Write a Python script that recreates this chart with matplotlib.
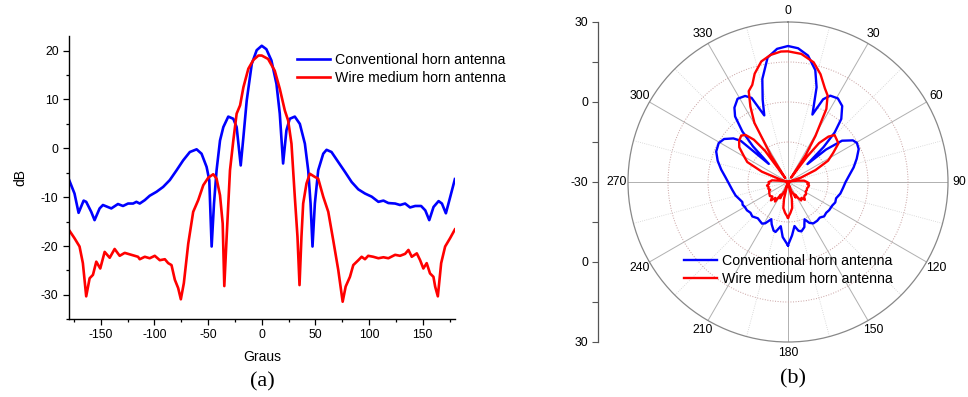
import numpy as np
import matplotlib
matplotlib.use("Agg")
import matplotlib.pyplot as plt
from matplotlib.ticker import MultipleLocator

plt.rcParams['font.family'] = ['Liberation Sans', 'DejaVu Sans']
plt.rcParams['axes.unicode_minus'] = False

# ---------------- data ----------------
conv_deg = [-180, -174.5, -170.7, -166, -163.6, -158.9, -155.8, -151.1, -148, -140.2,
            -134, -129.3, -124.6, -119.9, -116.8, -113.7, -109, -104.4, -98.1, -91.9,
            -85.7, -79.4, -73.2, -67, -60.7, -56.1, -51.4, -48.9, -46.7, -44.5,
            -42.1, -38.9, -35.8, -31.2, -26.5, -23.4, -19.6, -17.1, -14, -9.3,
            -4.7, 0, 4.3, 9, 13.7, 16.8, 19.9, 23, 26.1, 30.8,
            35.5, 40.2, 43.3, 45.5, 47.3, 49.5, 52.6, 57.3, 60.4, 65,
            71.3, 77.5, 83.8, 90, 96.2, 102.5, 108.7, 113.4, 118, 124.3,
            128.9, 133.6, 138.2, 143, 148.5, 152.4, 156.1, 160.1, 164.8, 167.9,
            171.6, 175.7, 180]
conv_db = [-6.2, -9.25, -13.2, -10.7, -10.95, -13, -14.7, -12.3, -11.6, -12.3,
           -11.4, -11.8, -11.3, -11.3, -10.95, -11.3, -10.6, -9.7, -8.9, -7.9,
           -6.5, -4.5, -2.45, -0.75, -0.2, -1.1, -3.8, -6.5, -20.1, -11.3,
           -4.5, 1.6, 4.35, 6.5, 6.05, 4.35, -3.5, 2.3, 9.8, 17.3,
           20.1, 21.0, 20.3, 18.0, 13.2, 7.1, -3.1, 3.7, 6.05, 6.5,
           5.0, 0.95, -4.5, -11.3, -20.1, -11.3, -4.5, -1.1, -0.3, -0.75,
           -2.8, -4.8, -6.9, -8.4, -9.25, -9.9, -10.95, -10.7, -11.2, -11.3,
           -11.6, -11.3, -12.1, -11.8, -11.8, -12.7, -14.7, -12.0, -10.8, -11.3,
           -13.3, -9.9, -6.3]

wire_deg = [-180, -174.5, -169.8, -166.7, -163.6, -160.4, -157.3, -154.2, -150.5, -146.4,
            -141.7, -137.1, -132.4, -127.7, -121.5, -115.3, -113.7, -109, -104.4, -99.7,
            -95, -90.3, -87.2, -84.1, -81, -77.9, -75.4, -72.6, -68.5, -63.9,
            -59.2, -54.5, -49.8, -45.2, -42.1, -38.9, -36.4, -34.9, -32.7, -29.6,
            -26.5, -23.4, -20.2, -17.1, -12.5, -7.8, -3.1, 0, 5.9, 12.1,
            16.8, 21.5, 24.6, 27.7, 30.8, 33.3, 35.2, 37, 38.6, 41.7,
            44.8, 49.5, 52.6, 57.3, 62, 66.6, 71.3, 75.4, 78.2, 82.2,
            85.3, 90, 93.1, 96.2, 99.2, 103.9, 108.7, 113.4, 118, 124.3,
            128.9, 133.6, 136.7, 139.8, 144.5, 147.6, 150.6, 153.7, 156.8, 160,
            161.6, 164.1, 167.2, 170.9, 175.5, 180]
wire_db = [-16.6, -18.4, -20.1, -23.5, -30.3, -26.6, -25.9, -23.2, -24.6, -21.2,
           -22.4, -20.6, -22.0, -21.4, -21.8, -22.2, -22.7, -22.2, -22.5, -22.0,
           -22.9, -22.7, -23.5, -23.9, -26.9, -28.6, -30.9, -27.6, -19.5, -13.0,
           -10.6, -7.55, -6.0, -5.3, -6.2, -9.6, -15.4, -28.2, -18.1, -4.5,
           1.6, 7.1, 8.8, 12.5, 16.3, 18.1, 19.0, 19.0, 18.3, 15.9,
           12.2, 7.75, 5.7, 0.95, -9.9, -18.1, -28.0, -18.1, -11.3, -7.2,
           -5.2, -5.85, -6.2, -9.9, -13.0, -18.8, -24.9, -31.4, -28.3, -26.3,
           -23.9, -22.9, -22.2, -22.7, -22.0, -22.2, -22.5, -22.3, -22.5, -21.8,
           -22.0, -21.6, -20.8, -22.2, -21.5, -22.9, -24.6, -23.5, -25.6, -26.3,
           -28.3, -30.3, -23.5, -20.1, -18.4, -16.6]

labels = ["Conventional horn antenna", "Wire medium horn antenna"]
colors = ["#0000ff", "#ff0000"]

x_ticks = [-150, -100, -50, 0, 50, 100, 150]
y_ticks = [-30, -20, -10, 0, 10, 20]
theta_ticks = [0, 30, 60, 90, 120, 150, 180, 210, 240, 270, 300, 330]
r_axis_pos = [60, 30, 0, -30, -60]
r_axis_labels = ["30", "0", "-30", "0", "30"]

W, H = 968, 397
fig = plt.figure(figsize=(W / 100, H / 100), dpi=100)

def fx(px):
    return px / W

def fy(py):
    return 1 - py / H

# ---------------- (a) cartesian ----------------
ax = fig.add_axes([fx(68.6), fy(319.3), fx(454.9) - fx(68.6), fy(36) - fy(319.3)])
ax.plot(conv_deg, conv_db, color=colors[0], lw=1.9, label=labels[0])
ax.plot(wire_deg, wire_db, color=colors[1], lw=1.9, label=labels[1])
ax.set_xlim(-180, 180)
ax.set_ylim(-35, 23)
ax.set_xticks(x_ticks)
ax.set_yticks(y_ticks)
ax.xaxis.set_minor_locator(MultipleLocator(25))
ax.yaxis.set_minor_locator(MultipleLocator(5))
for s in ['top', 'right']:
    ax.spines[s].set_visible(False)
for s in ['left', 'bottom']:
    ax.spines[s].set_linewidth(1.0)
ax.tick_params(which='major', direction='out', length=4.2, width=0.9, labelsize=8.8, pad=3)
ax.tick_params(which='minor', direction='out', length=2.5, width=0.9)
ax.set_xlabel("Graus", fontsize=10, labelpad=6)
ax.set_ylabel("dB", fontsize=10, labelpad=10)
ax.legend(loc='upper left', bbox_to_anchor=(fx(297), fy(53)), bbox_transform=fig.transFigure,
          frameon=False, fontsize=10.2, handlelength=2.3, handletextpad=0.35,
          labelspacing=0.28, borderpad=0, borderaxespad=0)

fig.text(fx(262), fy(382), "(a)", family=['Liberation Serif'], fontsize=16, ha='center', va='center')

# ---------------- (b) polar ----------------
cx, cy, R = 788, 182, 160
pax = fig.add_axes([fx(cx - R), fy(cy + R), 2 * R / W, 2 * R / H], projection='polar')
pax.set_theta_zero_location('N')
pax.set_theta_direction(-1)
pax.set_rlim(-30, 30)
pax.plot(np.deg2rad(conv_deg), np.clip(conv_db, -30, None), color=colors[0], lw=1.7, label=labels[0])
pax.plot(np.deg2rad(wire_deg), np.clip(wire_db, -30, None), color=colors[1], lw=1.7, label=labels[1])
pax.set_xticks(np.deg2rad(theta_ticks))
pax.set_xticklabels([str(t) for t in theta_ticks], fontsize=8.8)
pax.set_xticks(np.deg2rad(np.arange(15, 360, 30)), minor=True)
pax.set_yticks([-15, 0, 15])
pax.set_yticklabels([])
pax.grid(which='major', axis='x', color='#b0b0b0', lw=0.7, ls='-')
pax.grid(which='minor', axis='x', color='#d0d0d0', lw=0.6, ls=':')
pax.grid(which='major', axis='y', color='#c8a0a0', lw=0.7, ls=':')
pax.tick_params(axis='x', which='both', pad=1, length=0)
pax.spines['polar'].set_color('#888888')
pax.spines['polar'].set_linewidth(0.9)
pax.legend(loc='upper left', bbox_to_anchor=(fx(684), fy(254)), bbox_transform=fig.transFigure,
           frameon=False, fontsize=10.2, handlelength=2.3, handletextpad=0.35,
           labelspacing=0.28, borderpad=0, borderaxespad=0)

# radial scale drawn as a vertical axis on the left
rax = fig.add_axes([fx(598), fy(cy + R), 0.0005, 2 * R / H])
rax.set_ylim(-60, 60)
rax.set_xticks([])
for s in ['top', 'right', 'bottom']:
    rax.spines[s].set_visible(False)
rax.spines['left'].set_color('#555555')
rax.spines['left'].set_linewidth(0.9)
rax.set_yticks(r_axis_pos)
rax.set_yticklabels(r_axis_labels)
rax.yaxis.set_minor_locator(MultipleLocator(15))
rax.tick_params(which='both', direction='out', length=4.2, width=0.8, colors='#555555',
                labelcolor='black', labelsize=8.8, pad=3)
rax.patch.set_visible(False)

fig.text(fx(793), fy(379), "(b)", family=['Liberation Serif'], fontsize=16, ha='center', va='center')

fig.savefig("out.png", dpi=100, facecolor='white')
